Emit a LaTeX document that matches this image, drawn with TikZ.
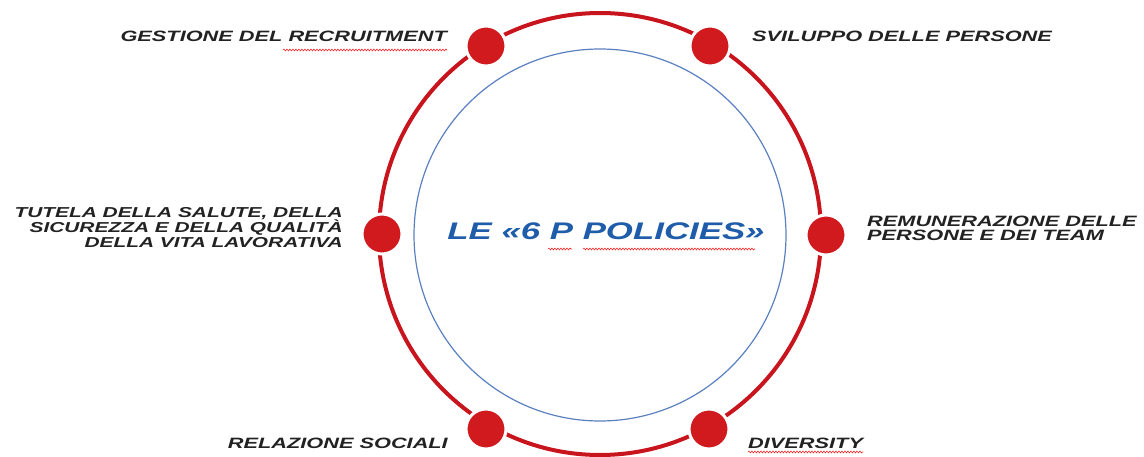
\documentclass[tikz,border=0pt]{standalone}
\usepackage{fontspec}
\usetikzlibrary{decorations.pathmorphing}
\newfontfamily\labfont{Liberation Sans}[FakeStretch=1.45]
\definecolor{ringred}{HTML}{C8141C}
\definecolor{dotred}{HTML}{D01A1E}
\definecolor{ringblue}{HTML}{5A80C0}
\definecolor{titleblue}{HTML}{1F5CAA}
\definecolor{labgray}{HTML}{222222}
\tikzset{
  dotnode/.style={circle,fill=dotred,draw=white,line width=3pt,minimum size=40pt,inner sep=0pt},
  lab/.style={inner sep=0pt,text=labgray,font=\labfont\bfseries\itshape\fontsize{15}{15}\selectfont},
  squiggle/.style={draw=red!85!white,line width=0.6pt,decorate,decoration={snake,segment length=3pt,amplitude=0.9pt}}
}
\begin{document}
\begin{tikzpicture}[x=1pt,y=-1pt]
\useasboundingbox (0,0) rectangle (1144,457);
\coordinate (c) at (600,234);
\draw[ringred,line width=4pt] (c) circle (221);
\draw[ringblue,line width=1.2pt] (600,235) circle (186);
\node[dotnode] (d1) at (486,46) {};
\node[dotnode] (d2) at (710,46) {};
\node[dotnode] (d3) at (382,234) {};
\node[dotnode] (d4) at (826,235) {};
\node[dotnode] (d5) at (486,429) {};
\node[dotnode] (d6) at (709,429) {};
\node[lab,anchor=base east] (l1) at (447,42) {GESTIONE DEL RECRUITMENT};
\node[lab,anchor=base west] (l2) at (752,42) {SVILUPPO DELLE PERSONE};
\node[lab,anchor=north east,align=right,font=\labfont\bfseries\itshape\fontsize{14.4}{15}\selectfont] (l3) at (343,207) {TUTELA DELLA SALUTE, DELLA\\SICUREZZA E DELLA QUALITÀ\\DELLA VITA LAVORATIVA};
\node[lab,anchor=north west,align=left,font=\labfont\bfseries\itshape\fontsize{15}{13.5}\selectfont] (l4) at (867,216) {REMUNERAZIONE DELLE\\PERSONE E DEI TEAM};
\node[lab,anchor=base east] (l5) at (448,448) {RELAZIONE SOCIALI};
\node[lab,anchor=base west] (l6) at (748,448) {DIVERSITY};
\node[inner sep=0pt,anchor=base,text=titleblue,font=\labfont\bfseries\itshape\fontsize{24}{24}\selectfont] (t) at (606,240) {LE «6 P POLICIES»};
\draw[squiggle] (283,50) -- (447,50);
\draw[squiggle] (748,452) -- (863,452);
\draw[squiggle] (548,249) -- (572,249);
\draw[squiggle] (583,249) -- (755,249);
\end{tikzpicture}
\end{document}
